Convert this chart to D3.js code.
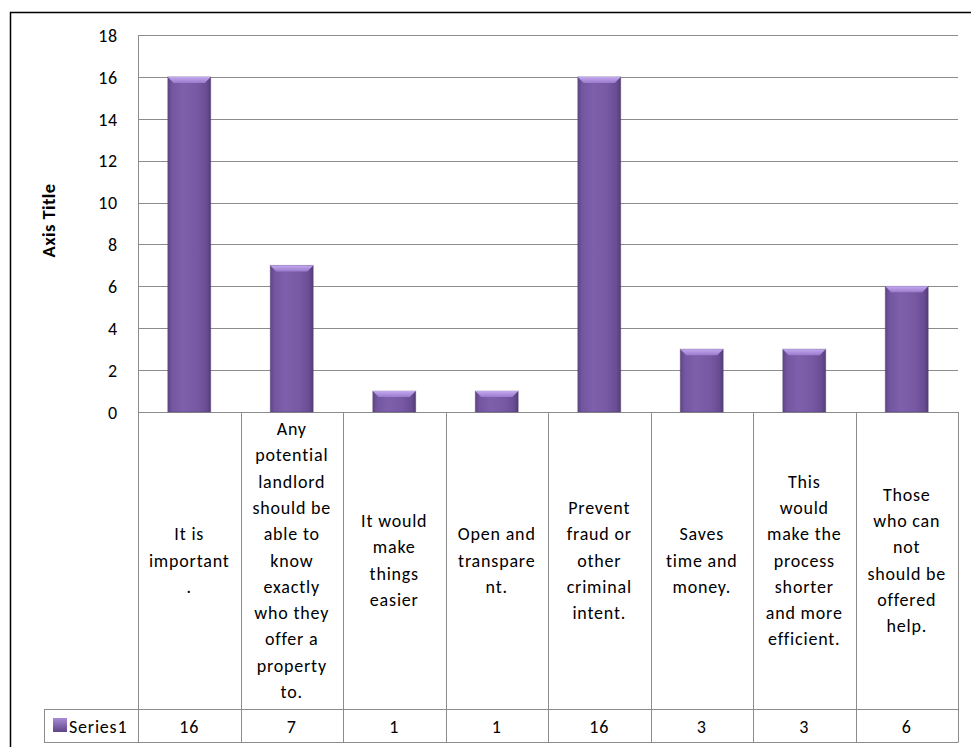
<!DOCTYPE html>
<html>
<head>
<meta charset="utf-8">
<script src="https://cdn.jsdelivr.net/npm/d3@7"></script>
<style>
  html, body { margin: 0; padding: 0; background: #fff; }
  svg { display: block; font-family: Carlito, Calibri, Lato, "Open Sans", sans-serif; }
  .lbl { font-size: 18px; letter-spacing: 0.8px; fill: #000; }
</style>
</head>
<body>
<svg id="chart" width="971" height="747"></svg>
<script>
// Category labels, one entry per wrapped line as shown in the data table
const categories = [
  ["It is", "important", "."],
  ["Any", "potential", "landlord", "should be", "able to", "know", "exactly", "who they", "offer a", "property", "to."],
  ["It would", "make", "things", "easier"],
  ["Open and", "transpare", "nt."],
  ["Prevent", "fraud or", "other", "criminal", "intent."],
  ["Saves", "time and", "money."],
  ["This", "would", "make the", "process", "shorter", "and more", "efficient."],
  ["Those", "who can", "not", "should be", "offered", "help."]
];
const seriesName = "Series1";
const values = [16, 7, 1, 1, 16, 3, 3, 6];
const yTicks = [0, 2, 4, 6, 8, 10, 12, 14, 16, 18];
const yTitle = "Axis Title";

const svg = d3.select("#chart");
const plot = { left: 138, right: 958, top: 35, bottom: 412 };
const tableBottom = 742, rowSplit = 709, legendLeft = 44;
const gridColor = "#8c8c8c";

// Outer chart frame
svg.append("rect")
  .attr("x", 10.5).attr("y", 12.5).attr("width", 1000).attr("height", 800)
  .attr("fill", "none").attr("stroke", "#000").attr("stroke-width", 1.5);

const idx = d3.range(categories.length);
const x = d3.scaleBand().domain(idx).range([plot.left, plot.right]).paddingInner(0).paddingOuter(0);
const y = d3.scaleLinear().domain([0, 18]).range([plot.bottom, plot.top]);

// Gradients for the bevelled bars
const defs = svg.append("defs");
const g = defs.append("linearGradient").attr("id", "barBody").attr("x1", 0).attr("x2", 1).attr("y1", 0).attr("y2", 0);
g.append("stop").attr("offset", "0%").attr("stop-color", "#5f4585");
g.append("stop").attr("offset", "10%").attr("stop-color", "#7356a0");
g.append("stop").attr("offset", "35%").attr("stop-color", "#7d5fab");
g.append("stop").attr("offset", "70%").attr("stop-color", "#7658a3");
g.append("stop").attr("offset", "90%").attr("stop-color", "#694d93");
g.append("stop").attr("offset", "100%").attr("stop-color", "#533c76");
const gt = defs.append("linearGradient").attr("id", "barTop").attr("x1", 0).attr("x2", 0).attr("y1", 0).attr("y2", 1);
gt.append("stop").attr("offset", "0%").attr("stop-color", "#c4a9f0");
gt.append("stop").attr("offset", "100%").attr("stop-color", "#9a7bcc");
const gl = defs.append("linearGradient").attr("id", "legendKey").attr("x1", 0).attr("x2", 0).attr("y1", 0).attr("y2", 1);
gl.append("stop").attr("offset", "0%").attr("stop-color", "#a88bd6");
gl.append("stop").attr("offset", "100%").attr("stop-color", "#5e4486");

// Horizontal gridlines
svg.append("g").selectAll("line").data(yTicks).join("line")
  .attr("x1", plot.left).attr("x2", plot.right)
  .attr("y1", d => Math.round(y(d)) + 0.5).attr("y2", d => Math.round(y(d)) + 0.5)
  .attr("stroke", gridColor).attr("stroke-width", 1);

// Y axis with tick labels only
const yAxis = svg.append("g")
  .attr("transform", `translate(${plot.left},0)`)
  .call(d3.axisLeft(y).tickValues(yTicks).tickSize(0).tickPadding(20));
yAxis.select(".domain").remove();
yAxis.selectAll("text").attr("class", "lbl").attr("font-size", null)
  .attr("font-family", "Carlito, Calibri, Lato, sans-serif").attr("dy", "0.35em");

svg.append("line")
  .attr("x1", plot.left + 0.5).attr("x2", plot.left + 0.5)
  .attr("y1", plot.top).attr("y2", tableBottom)
  .attr("stroke", gridColor);

// Axis title
svg.append("text")
  .attr("transform", `translate(55,${(plot.top + plot.bottom) / 2 - 3}) rotate(-90)`)
  .attr("text-anchor", "middle")
  .style("font-size", "18.5px").style("letter-spacing", "0.4px").attr("font-weight", "bold")
  .text(yTitle);

// Bars
const barW = 43;
const bars = svg.append("g").selectAll("g").data(idx).join("g");
bars.append("rect")
  .attr("x", i => x(i) + x.bandwidth() / 2 - barW / 2)
  .attr("y", i => y(values[i]))
  .attr("width", barW)
  .attr("height", i => y(0) - y(values[i]))
  .attr("fill", "url(#barBody)")
  .attr("stroke", "#4e3a6e").attr("stroke-opacity", 0.35).attr("stroke-width", 1);
bars.append("path")
  .attr("d", i => {
    const x0 = x(i) + x.bandwidth() / 2 - barW / 2, x1 = x0 + barW, t = y(values[i]), b = 6;
    return `M${x0},${t}L${x1},${t}L${x1 - b},${t + b}L${x0 + b},${t + b}Z`;
  })
  .attr("fill", "url(#barTop)");

// Data table: cell borders
const table = svg.append("g").attr("stroke", gridColor).attr("stroke-width", 1);
table.selectAll("line.v").data(d3.range(categories.length + 1)).join("line")
  .attr("class", "v")
  .attr("x1", i => Math.round(plot.left + i * x.step()) + 0.5)
  .attr("x2", i => Math.round(plot.left + i * x.step()) + 0.5)
  .attr("y1", plot.bottom).attr("y2", tableBottom);
table.append("line").attr("x1", legendLeft).attr("x2", plot.right + 0.5)
  .attr("y1", rowSplit + 0.5).attr("y2", rowSplit + 0.5);
table.append("line").attr("x1", legendLeft).attr("x2", plot.right + 0.5)
  .attr("y1", tableBottom + 0.5).attr("y2", tableBottom + 0.5);
table.append("line").attr("x1", legendLeft + 0.5).attr("x2", legendLeft + 0.5)
  .attr("y1", rowSplit).attr("y2", tableBottom);

// Data table: category labels
const lineH = 26.3;
const midY = (plot.bottom + rowSplit) / 2;
svg.append("g").selectAll("text").data(idx).join("text")
  .attr("class", "lbl")
  .attr("text-anchor", "middle")
  .each(function (i) {
    const lines = categories[i];
    const cx = x(i) + x.bandwidth() / 2;
    const y0 = midY - (lines.length - 1) * lineH / 2 + 6;
    d3.select(this).selectAll("tspan").data(lines).join("tspan")
      .attr("x", cx).attr("y", (d, k) => y0 + k * lineH).text(d => d);
  });

// Data table: values row
svg.append("g").selectAll("text").data(idx).join("text")
  .attr("class", "lbl")
  .attr("x", i => x(i) + x.bandwidth() / 2)
  .attr("y", (rowSplit + tableBottom) / 2 + 7)
  .attr("text-anchor", "middle")
  .text(i => values[i]);

// Legend key and series name
svg.append("rect").attr("x", 53).attr("y", 718).attr("width", 14).attr("height", 14)
  .attr("fill", "url(#legendKey)");
svg.append("text").attr("class", "lbl").attr("x", 69).attr("y", (rowSplit + tableBottom) / 2 + 7)
  .text(seriesName);
</script>
</body>
</html>
